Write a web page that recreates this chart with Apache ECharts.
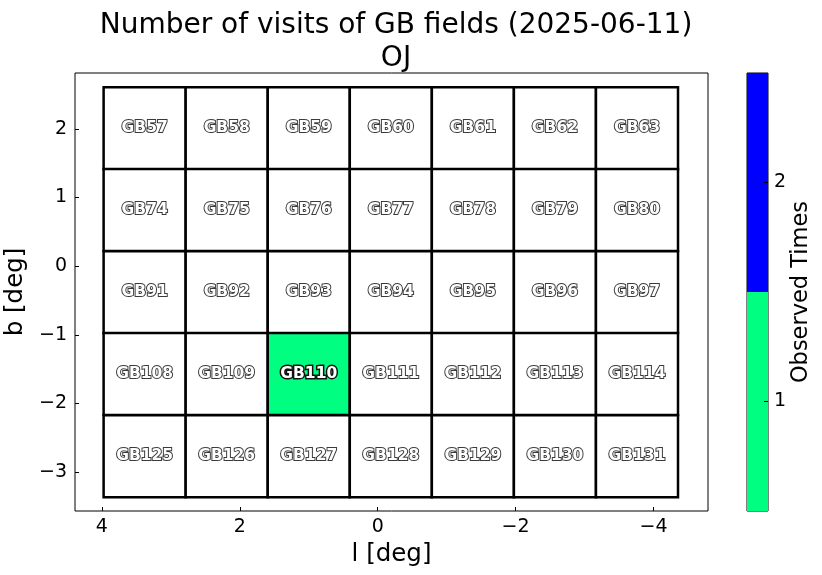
<!DOCTYPE html>
<html><head><meta charset="utf-8">
<script src="https://cdn.jsdelivr.net/npm/echarts@6/dist/echarts.min.js"></script>
<style>html,body{margin:0;padding:0;background:#fff}#c{width:822px;height:575px}</style>
</head><body><div id="c"></div>
<script>
// Field centre longitudes (columns) and latitudes (rows), in degrees
const lCenters = [3.38, 2.19, 1.00, -0.19, -1.38, -2.57, -3.76];
const bCenters = [2.01, 0.82, -0.38, -1.57, -2.77];
const fieldNames = [
  ['GB57','GB58','GB59','GB60','GB61','GB62','GB63'],
  ['GB74','GB75','GB76','GB77','GB78','GB79','GB80'],
  ['GB91','GB92','GB93','GB94','GB95','GB96','GB97'],
  ['GB108','GB109','GB110','GB111','GB112','GB113','GB114'],
  ['GB125','GB126','GB127','GB128','GB129','GB130','GB131']
];
const visits = [
  [0,0,0,0,0,0,0],
  [0,0,0,0,0,0,0],
  [0,0,0,0,0,0,0],
  [0,0,1,0,0,0,0],
  [0,0,0,0,0,0,0]
];
const cellW = 1.19, cellH = 1.195;
const xTicks = [4, 2, 0, -2, -4];
const yTicks = [-3, -2, -1, 0, 1, 2];
const cbTicks = [1, 2];
const cbLevels = [[0.5, 1.5], [1.5, 2.5]];
const levelColors = {1: '#00ff80', 2: '#0000ff'};

const cells = [];
for (let r = 0; r < bCenters.length; r++)
  for (let c = 0; c < lCenters.length; c++)
    cells.push([lCenters[c], bCenters[r], visits[r][c], fieldNames[r][c]]);

const FONT = 'DejaVu Sans';
const minusFmt = v => (v < 0 ? '\u2212' + Math.abs(v) : '' + v);
const chart = echarts.init(document.getElementById('c'), null, {renderer: 'canvas'});
chart.setOption({
  animation: false,
  backgroundColor: '#fff',
  textStyle: {fontFamily: FONT},
  title: {
    text: 'Number of visits of GB fields (2025-06-11)\nOJ',
    left: 391, top: 4, textAlign: 'center',
    textStyle: {fontFamily: FONT, fontSize: 28, fontWeight: 'normal', color: '#000', lineHeight: 33}
  },
  grid: [
    {left: 75, right: 114, top: 73, bottom: 64, show: true, borderColor: '#000', borderWidth: 1,
     backgroundColor: 'transparent', outerBoundsMode: 'none', containLabel: false},
    {left: 747, width: 21, top: 73, bottom: 64, show: true, borderColor: '#000', borderWidth: 1,
     backgroundColor: 'transparent', outerBoundsMode: 'none', containLabel: false}
  ],
  xAxis: [
    {type: 'value', gridIndex: 0, inverse: true, min: -4.79, max: 4.39, z: 10,
     name: 'l [deg]', nameLocation: 'middle', nameGap: 27,
     nameTextStyle: {fontFamily: FONT, fontSize: 24.5, color: '#000'},
     axisLine: {show: false, onZero: false}, splitLine: {show: false},
     axisTick: {show: true, inside: true, length: 4, customValues: xTicks, lineStyle: {color: '#000', width: 1}},
     axisLabel: {customValues: xTicks, fontFamily: FONT, fontSize: 19, color: '#000', margin: 7, formatter: minusFmt}},
    {type: 'value', gridIndex: 1, min: 0, max: 1, show: false, axisLine: {onZero: false}}
  ],
  yAxis: [
    {type: 'value', gridIndex: 0, min: -3.568, max: 2.815, z: 10,
     name: 'b [deg]', nameLocation: 'middle', nameGap: 40, nameRotate: 90,
     nameTextStyle: {fontFamily: FONT, fontSize: 24.5, color: '#000'},
     axisLine: {show: false, onZero: false}, splitLine: {show: false},
     axisTick: {show: true, inside: true, length: 4, customValues: yTicks, lineStyle: {color: '#000', width: 1}},
     axisLabel: {customValues: yTicks, fontFamily: FONT, fontSize: 19, color: '#000', margin: 8, formatter: minusFmt}},
    {type: 'value', gridIndex: 1, min: 0.5, max: 2.5, position: 'right', z: 10,
     name: 'Observed Times', nameLocation: 'middle', nameGap: 17, nameRotate: 90,
     nameTextStyle: {fontFamily: FONT, fontSize: 22.5, color: '#000', verticalAlign: 'top'},
     axisLine: {show: false, onZero: false}, splitLine: {show: false},
     axisTick: {show: true, inside: true, length: 4, customValues: cbTicks, lineStyle: {color: '#000', width: 1}},
     axisLabel: {customValues: cbTicks, fontFamily: FONT, fontSize: 19, color: '#000', margin: 6}}
  ],
  series: [
    {
      type: 'custom', xAxisIndex: 0, yAxisIndex: 0, data: cells, z: 2,
      renderItem: function (params, api) {
        const l = api.value(0), b = api.value(1), v = api.value(2);
        const name = cells[params.dataIndex][3];
        const p1 = api.coord([l + cellW / 2, b + cellH / 2]);
        const p2 = api.coord([l - cellW / 2, b - cellH / 2]);
        const x = Math.min(p1[0], p2[0]), y = Math.min(p1[1], p2[1]);
        const w = Math.abs(p2[0] - p1[0]), h = Math.abs(p2[1] - p1[1]);
        const c = api.coord([l, b]);
        return {
          type: 'group',
          children: [
            {type: 'rect', shape: {x: x, y: y, width: w, height: h},
             style: {fill: v > 0 ? levelColors[v] : '#fff', stroke: '#000', lineWidth: 2.5}},
            {type: 'text', x: c[0], y: c[1], z2: 10,
             style: {text: name, fontFamily: FONT, fontWeight: 'bold', fontSize: 15.5,
               fill: '#fff', stroke: v > 0 ? '#111' : '#3a3a3a', lineWidth: v > 0 ? 3 : 2,
               strokeFirst: true,
               align: 'center', verticalAlign: 'middle'}}
          ]
        };
      }
    },
    {
      type: 'custom', xAxisIndex: 1, yAxisIndex: 1, data: cbLevels, z: 1,
      renderItem: function (params, api) {
        const lo = api.value(0), hi = api.value(1);
        const p1 = api.coord([0, hi]);
        const p2 = api.coord([1, lo]);
        return {type: 'rect', shape: {x: p1[0], y: p1[1], width: p2[0] - p1[0], height: p2[1] - p1[1]},
                style: {fill: levelColors[params.dataIndex + 1]}};
      }
    }
  ]
});
</script>
</body></html>
